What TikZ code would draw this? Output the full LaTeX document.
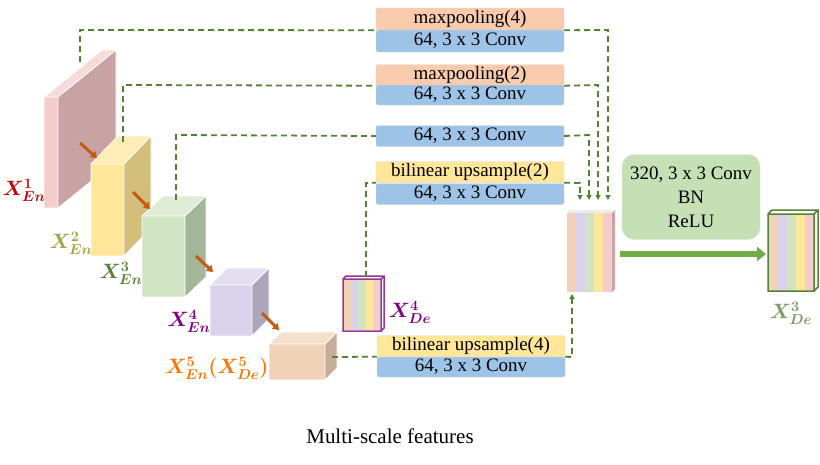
\documentclass[tikz,border=0pt]{standalone}
\usepackage{amsmath,bm}
\usepackage{fontspec}
\setmainfont{Liberation Serif}
\usetikzlibrary{arrows.meta}
\definecolor{cpk}{HTML}{F4CCCC}\definecolor{cpks}{HTML}{C9A3A3}
\definecolor{cye}{HTML}{FFE699}\definecolor{cyes}{HTML}{D3BE7C}
\definecolor{cgr}{HTML}{D0E4C4}\definecolor{cgrs}{HTML}{A3B697}
\definecolor{cla}{HTML}{D9D2EA}\definecolor{clas}{HTML}{ACA6BD}
\definecolor{cpe}{HTML}{F0D2B8}\definecolor{cpes}{HTML}{C6AD99}
\definecolor{corb}{HTML}{F8CBAD}\definecolor{cblb}{HTML}{9DC3E6}\definecolor{cylb}{HTML}{FFE699}
\definecolor{dgreen}{HTML}{548235}\definecolor{agreen}{HTML}{70AD47}\definecolor{bgreen}{HTML}{C5E0B4}
\definecolor{arrowor}{HTML}{C55A11}
\newcommand\mycube[9]{%
 \fill[#8] (#3,#2)--++(#5,#6)--++(0,#4-#2)--(#3,#4)--cycle;
 \fill[#7!70!white] (#1,#2)--++(#5,#6)--++(#3-#1,0)--(#3,#2)--cycle;
 \fill[#7] (#1,#2) rectangle (#3,#4);
 \draw[white,line width=0.8pt] (#1,#4)--(#1,#2)--(#3,#2)--(#3,#4)--cycle (#1,#2)--++(#5,#6)--++(#3-#1,0)--++(0,#4-#2)--(#3,#4) (#3,#2)--++(#5,#6);
 \node[#9] at (#1,#2) {};}
\newcommand\stripes[4]{% x y w h
 \foreach \c [count=\i from 0] in {cpe,cla,cgr,cye,cpk}{\fill[\c] ({#1+\i*#3/5},#2) rectangle ({#1+(\i+1)*#3/5},#2+#4);}}
\begin{document}
\begin{tikzpicture}[x=1pt,y=-1pt,
 lbl/.style={rounded corners=2pt,minimum width=188pt,inner sep=0pt,font=\fontsize{19}{20}\selectfont,draw=gray!30},
 dsh/.style={dgreen,line width=1.8pt,dash pattern=on 6pt off 4pt},
 tip/.style={-{Triangle[length=5pt,width=5pt]}},
 feat/.style={font=\fontsize{20}{22}\selectfont,inner sep=1pt}]
\useasboundingbox (0,0) rectangle (820,464);
\fill[white] (0,0) rectangle (820,464);
% cubes
\mycube{44}{97}{58}{208}{58}{-47}{cpk}{cpks}{coordinate,name=c1}
\mycube{91}{164}{124}{256}{27}{-28}{cye}{cyes}{coordinate,name=c2}
\mycube{142}{216}{185}{297}{21}{-20}{cgr}{cgrs}{coordinate,name=c3}
\mycube{210}{285}{252}{336}{17}{-17}{cla}{clas}{coordinate,name=c4}
\mycube{269}{344}{325}{380}{12}{-12}{cpe}{cpes}{coordinate,name=c5}
% orange arrows
\foreach \a/\b in {{80,143}/{97,158},{133,192}/{150,209},{196,256}/{213,272},{262,313}/{279,330}}
 \draw[arrowor,line width=3pt,-{Triangle[length=6pt,width=8pt]}] (\a)--(\b);
% X4De
\stripes{344}{280}{36}{50}
\draw[violet!80,line width=1.5pt] (343,279) rectangle (381,331) (343,279)--(346,276)--(384,276)--(384,328)--(381,331) (381,279)--(384,276);
\node[coordinate] (x4de) at (366,277) {};
% concat
\stripes{567}{213}{45}{79}
\fill[cpks] (612,213)--(615,210)--(615,289)--(612,292)--cycle;
\fill[gray!15] (567,213)--(570,210)--(615,210)--(612,213)--cycle;
\node[coordinate] (cc) at (590,212) {};
% green box
\node[draw=gray!25,fill=bgreen,rounded corners=12pt,minimum width=138pt,minimum height=85pt,align=center,font=\fontsize{19}{24}\selectfont] (conv) at (691,197) {320, 3 x 3 Conv\\BN\\ReLU};
\draw[agreen,line width=6pt,-{Triangle[length=9pt,width=14pt]}] (620,254)--(766,254);
% X3De
\stripes{769}{215}{45}{76}
\draw[dgreen,line width=1.5pt] (768,214) rectangle (814,291) (768,214)--(772,210)--(818,210)--(818,287)--(814,291) (814,214)--(818,210);
% label boxes
\node[lbl,fill=corb,minimum height=22pt] (o1) at (470,19) {maxpooling(4)};
\node[lbl,fill=cblb,minimum height=22pt] (b1) at (470,41) {64, 3 x 3 Conv};
\node[lbl,fill=corb,minimum height=21pt] (o2) at (470,75) {maxpooling(2)};
\node[lbl,fill=cblb,minimum height=20pt] (b2) at (470,95) {64, 3 x 3 Conv};
\node[lbl,fill=cblb,minimum height=21pt] (b3) at (470,136) {64, 3 x 3 Conv};
\node[lbl,fill=cylb,minimum height=21pt] (y4) at (470,172) {bilinear upsample(2)};
\node[lbl,fill=cblb,minimum height=21pt] (b4) at (470,194) {64, 3 x 3 Conv};
\node[lbl,fill=cylb,minimum height=21pt] (y5) at (471,346) {bilinear upsample(4)};
\node[lbl,fill=cblb,minimum height=20pt] (b5) at (471,367) {64, 3 x 3 Conv};
% dashed connectors
\draw[dsh] (80,62)--(80,30)--(o1.south west);
\draw[dsh,tip] (o1.south east)--(608,30)--(608,200);
\draw[dsh] (123,142)--(123,85)--(o2.south west);
\draw[dsh,tip] (o2.south east)--(598,85)--(598,200);
\draw[dsh] (176,200)--(176,135)--(b3.west);
\draw[dsh,tip] (b3.east)--(589,135)--(589,200);
\draw[dsh] (x4de)--(366,183)--(y4.south west);
\draw[dsh,tip] (y4.south east)--(580,183)--(580,200);
\draw[dsh] (332,357)--(y5.south west);
\draw[dsh,tip] (y5.south east)--(572,357)--(572,294);
% feature labels
\node[feat,text=red!75!black] (l1) at (24,190) {$\boldsymbol{X^{1}_{En}}$};
\node[feat,text=yellow!60!black] (l2) at (71,243) {$\boldsymbol{X^{2}_{En}}$};
\node[feat,text=dgreen] (l3) at (121,273) {$\boldsymbol{X^{3}_{En}}$};
\node[feat,text=violet] (l4) at (189,321) {$\boldsymbol{X^{4}_{En}}$};
\node[feat,text=orange!90!red] (l5) at (217,368) {$\boldsymbol{X^{5}_{En}(X^{5}_{De})}$};
\node[feat,text=violet] (l6) at (410,312) {$\boldsymbol{X^{4}_{De}}$};
\node[feat,text=dgreen!80] (l7) at (791,313) {$\boldsymbol{X^{3}_{De}}$};
\node[font=\fontsize{21}{22}\selectfont] (cap) at (390,436) {Multi-scale features};
\end{tikzpicture}
\end{document}
